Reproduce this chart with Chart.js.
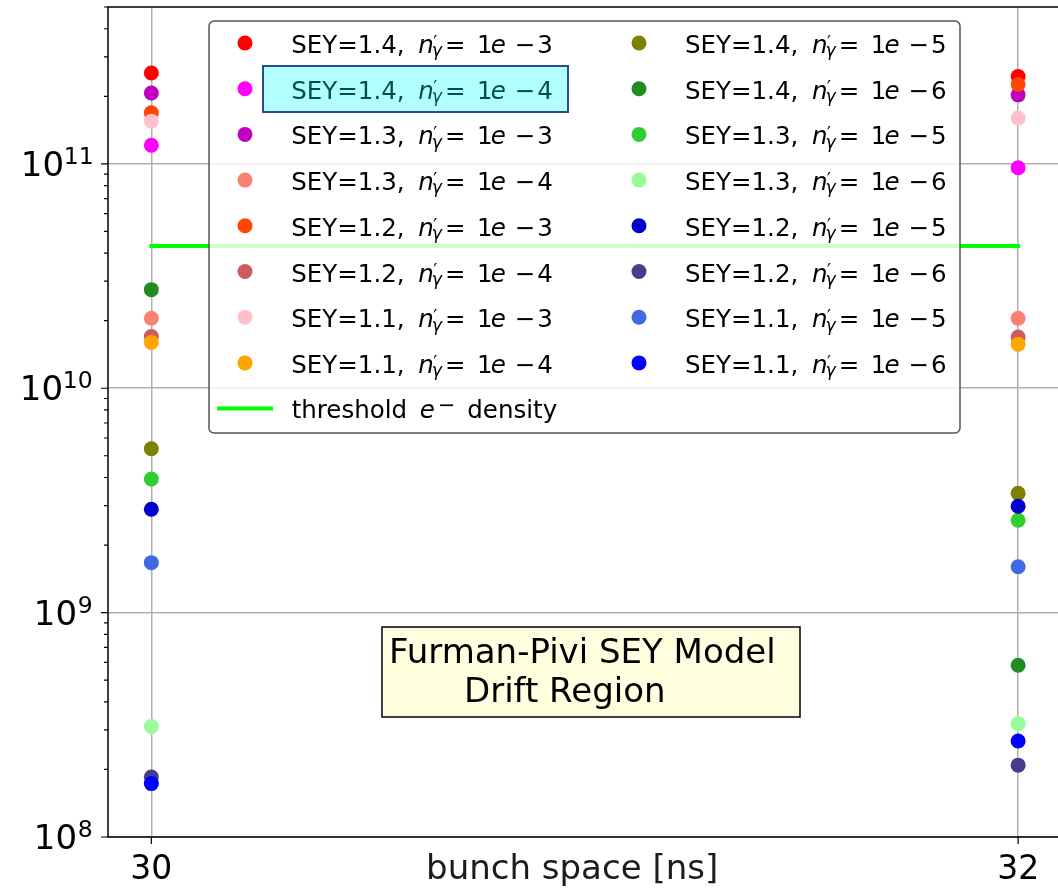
<!DOCTYPE html>
<html>
<head>
<meta charset="utf-8">
<script src="https://cdn.jsdelivr.net/npm/chart.js@4"></script>
<style>
  body { margin: 0; background: #fff; }
  canvas { display: block; }
</style>
</head>
<body>
<canvas id="seyChart" width="1058" height="893"></canvas>
<script>
// bunch spacing [ns]
const bunchSpace = [30, 32];
const xTicks = [30, 32];
const yTicks = [1e8, 1e9, 1e10, 1e11];
const thresholdDensity = 4.3e10;

// series labels
const seyValues = ['1.4', '1.4', '1.3', '1.3', '1.2', '1.2', '1.1', '1.1',
                   '1.4', '1.4', '1.3', '1.3', '1.2', '1.2', '1.1', '1.1'];
const ngExp = ['3', '4', '3', '4', '3', '4', '3', '4',
               '5', '6', '5', '6', '5', '6', '5', '6'];
const seriesColors = ['#ff0000', '#ff00ff', '#bf00bf', '#fa8072', '#ff4500', '#cd5c5c', '#ffc0cb', '#ffa500',
                      '#808000', '#228b22', '#32cd32', '#98fb98', '#0000cd', '#483d8b', '#4169e1', '#0000ff'];

// e- density at 30 ns and 32 ns
const density30 = [2.54e11, 1.21e11, 2.07e11, 2.05e10, 1.69e11, 1.70e10, 1.55e11, 1.60e10,
                   5.37e9, 2.75e10, 3.94e9, 3.11e8, 2.89e9, 1.85e8, 1.67e9, 1.73e8];
const density32 = [2.45e11, 9.6e10, 2.03e11, 2.05e10, 2.26e11, 1.69e10, 1.60e11, 1.57e10,
                   3.40e9, 5.83e8, 2.58e9, 3.20e8, 2.98e9, 2.09e8, 1.60e9, 2.68e8];

const FONT = '"DejaVu Sans"';

// draw text so that its ink starts at `left`
function inkText(ctx, text, font, left, baseline) {
    ctx.font = font;
    const m = ctx.measureText(text);
    ctx.fillText(text, left + m.actualBoundingBoxLeft, baseline);
    return left + m.actualBoundingBoxLeft + m.actualBoundingBoxRight;
}
// ink starts at `left`, ink top at `top`
function inkTextTop(ctx, text, font, left, top) {
    ctx.font = font;
    const m = ctx.measureText(text);
    ctx.fillText(text, left + m.actualBoundingBoxLeft, top + m.actualBoundingBoxAscent);
}
function inkWidth(ctx, text, font) {
    ctx.font = font;
    const m = ctx.measureText(text);
    return m.actualBoundingBoxLeft + m.actualBoundingBoxRight;
}

function drawSeyLabel(ctx, x, base, sey, ex, f) {
    const k = f / 24.5;
    const R = f + 'px ' + FONT;
    const I = 'italic ' + R;
    const RS = (f * 0.7) + 'px ' + FONT;
    const IS = 'italic ' + RS;
    ctx.textAlign = 'left';
    ctx.textBaseline = 'alphabetic';
    inkText(ctx, 'SEY=' + sey + ',', R, x, base);
    inkText(ctx, 'n', I, x + 126 * k, base);
    inkTextTop(ctx, '\u2032', RS, x + 141 * k, base - 18.3 * k);
    inkTextTop(ctx, '\u03b3', IS, x + 140.5 * k, base - 6.7 * k);
    inkText(ctx, '=', R, x + 154.8 * k, base);
    inkText(ctx, '1', R, x + 186.7 * k, base);
    inkText(ctx, 'e', I, x + 199.4 * k, base);
    inkText(ctx, '\u2212', R, x + 224.4 * k, base);
    inkText(ctx, ex, R, x + 246 * k, base);
}

const overlay = {
    id: 'overlay',
    afterDraw(chart) {
        const { ctx, chartArea: a, scales: { x, y } } = chart;
        ctx.save();

        // spines
        ctx.strokeStyle = '#000';
        ctx.lineWidth = 1.5;
        ctx.beginPath();
        ctx.moveTo(chart.width, a.top);
        ctx.lineTo(a.left, a.top);
        ctx.lineTo(a.left, a.bottom);
        ctx.lineTo(chart.width, a.bottom);
        ctx.stroke();

        // y ticks (major + log minor)
        ctx.lineWidth = 1.2;
        ctx.beginPath();
        yTicks.forEach(v => {
            const py = y.getPixelForValue(v);
            ctx.moveTo(a.left - 7, py);
            ctx.lineTo(a.left, py);
            for (let m = 2; m <= 9; m++) {
                const mv = v * m;
                if (mv > y.max) break;
                const my = y.getPixelForValue(mv);
                ctx.moveTo(a.left - 4, my);
                ctx.lineTo(a.left, my);
            }
        });
        xTicks.forEach(v => {
            const px = x.getPixelForValue(v);
            ctx.moveTo(px, a.bottom);
            ctx.lineTo(px, a.bottom + 7);
        });
        ctx.stroke();

        // y tick labels 10^n, right aligned as a whole
        ctx.fillStyle = '#000';
        ctx.textBaseline = 'alphabetic';
        ctx.textAlign = 'left';
        const baseFont = '34px ' + FONT;
        const supFont = '23.5px ' + FONT;
        yTicks.forEach(v => {
            const py = y.getPixelForValue(v);
            const sup = String(Math.round(Math.log10(v)));
            const supLeft = 91.7 - inkWidth(ctx, sup, supFont);
            inkText(ctx, sup, supFont, supLeft, py);
            inkText(ctx, '10', baseFont, supLeft - 3.3 - inkWidth(ctx, '10', baseFont), py + 12);
        });

        // x tick labels
        ctx.font = '33px ' + FONT;
        ctx.textAlign = 'center';
        xTicks.forEach(v => {
            ctx.fillText(String(v), x.getPixelForValue(v), 879);
        });

        // axis title
        ctx.textAlign = 'left';
        ctx.fillStyle = '#1c1c1c';
        const tFont = '34px ' + FONT;
        inkText(ctx, 'bunch space [ns]', tFont, 572.5 - inkWidth(ctx, 'bunch space [ns]', tFont) / 2, 879);

        // legend frame
        const lx = 209, ly = 21, lw = 751, lh = 412, r = 5;
        ctx.beginPath();
        ctx.moveTo(lx + r, ly);
        ctx.arcTo(lx + lw, ly, lx + lw, ly + lh, r);
        ctx.arcTo(lx + lw, ly + lh, lx, ly + lh, r);
        ctx.arcTo(lx, ly + lh, lx, ly, r);
        ctx.arcTo(lx, ly, lx + lw, ly, r);
        ctx.closePath();
        ctx.fillStyle = 'rgba(255,255,255,0.8)';
        ctx.fill();
        ctx.strokeStyle = '#555';
        ctx.lineWidth = 1.5;
        ctx.stroke();

        // legend entries, column-major, 9 rows
        const rowY = i => 43 + i * 45.7;
        const f = 24.5;
        seyValues.forEach((sey, i) => {
            const col = i < 8 ? 0 : 1;
            const row = i < 8 ? i : i - 8;
            const mx = col === 0 ? 245 : 639;
            const tx = col === 0 ? 292.3 : 686;
            const cy = rowY(row);
            ctx.fillStyle = seriesColors[i];
            ctx.beginPath();
            ctx.arc(mx, cy, 7.5, 0, Math.PI * 2);
            ctx.fill();
            ctx.fillStyle = '#000';
            drawSeyLabel(ctx, tx, cy + 10, sey, ngExp[i], f);
        });
        // threshold entry
        const ty = rowY(8);
        ctx.strokeStyle = '#00ff00';
        ctx.lineWidth = 4;
        ctx.beginPath();
        ctx.moveTo(217, ty);
        ctx.lineTo(273, ty);
        ctx.stroke();
        ctx.fillStyle = '#000';
        ctx.textAlign = 'left';
        const tb = ty + 9.5;
        inkText(ctx, 'threshold', f + 'px ' + FONT, 291.7, tb);
        inkText(ctx, 'e', 'italic ' + f + 'px ' + FONT, 420.7, tb);
        inkTextTop(ctx, '\u2212', (f * 0.85) + 'px ' + FONT, 440, tb - 14.5);
        inkText(ctx, 'density', f + 'px ' + FONT, 468.3, tb);

        // highlight on second entry
        ctx.fillStyle = 'rgba(0,255,255,0.3)';
        ctx.fillRect(263, 66, 305, 46);
        ctx.strokeStyle = '#2b4c8c';
        ctx.lineWidth = 2;
        ctx.strokeRect(263, 66, 305, 46);

        // annotation box
        ctx.fillStyle = '#ffffe0';
        ctx.fillRect(382, 627, 418, 90);
        ctx.strokeStyle = '#000';
        ctx.lineWidth = 1.5;
        ctx.strokeRect(382, 627, 418, 90);
        ctx.fillStyle = '#000';
        const bFont = '34px ' + FONT;
        inkText(ctx, 'Furman-Pivi SEY Model', bFont, 392, 663);
        inkText(ctx, 'Drift Region', bFont, 467, 702);

        ctx.restore();
    }
};

const datasets = [{
    type: 'line',
    label: 'threshold e- density',
    data: bunchSpace.map(b => ({ x: b, y: thresholdDensity })),
    borderColor: '#00ff00',
    borderWidth: 4,
    borderCapStyle: 'square',
    pointRadius: 0,
    order: 100
}];
seyValues.forEach((sey, i) => {
    datasets.push({
        type: 'scatter',
        label: 'SEY=' + sey + ', n\u2032\u03b3=1e-' + ngExp[i],
        data: [{ x: bunchSpace[0], y: density30[i] }, { x: bunchSpace[1], y: density32[i] }],
        backgroundColor: seriesColors[i],
        borderWidth: 0,
        pointRadius: 7.5,
        order: 50 - i
    });
});

new Chart(document.getElementById('seyChart').getContext('2d'), {
    data: { datasets },
    options: {
        responsive: false,
        animation: false,
        layout: { autoPadding: false, padding: { left: 108, top: 7, right: 0, bottom: 56 } },
        plugins: { legend: { display: false }, tooltip: { enabled: false } },
        scales: {
            x: {
                type: 'linear',
                min: 29.9,
                max: 32.092,
                afterBuildTicks: s => { s.ticks = xTicks.map(v => ({ value: v })); },
                afterFit: s => { s.height = 0; },
                ticks: { display: false },
                grid: { color: '#b0b0b0', lineWidth: 1.5, drawTicks: false },
                border: { display: false }
            },
            y: {
                type: 'logarithmic',
                min: 1e8,
                max: 5e11,
                afterBuildTicks: s => { s.ticks = yTicks.map(v => ({ value: v })); },
                afterFit: s => { s.width = 0; },
                ticks: { display: false },
                grid: { color: '#b0b0b0', lineWidth: 1.5, drawTicks: false },
                border: { display: false }
            }
        }
    },
    plugins: [overlay]
});
</script>
</body>
</html>
